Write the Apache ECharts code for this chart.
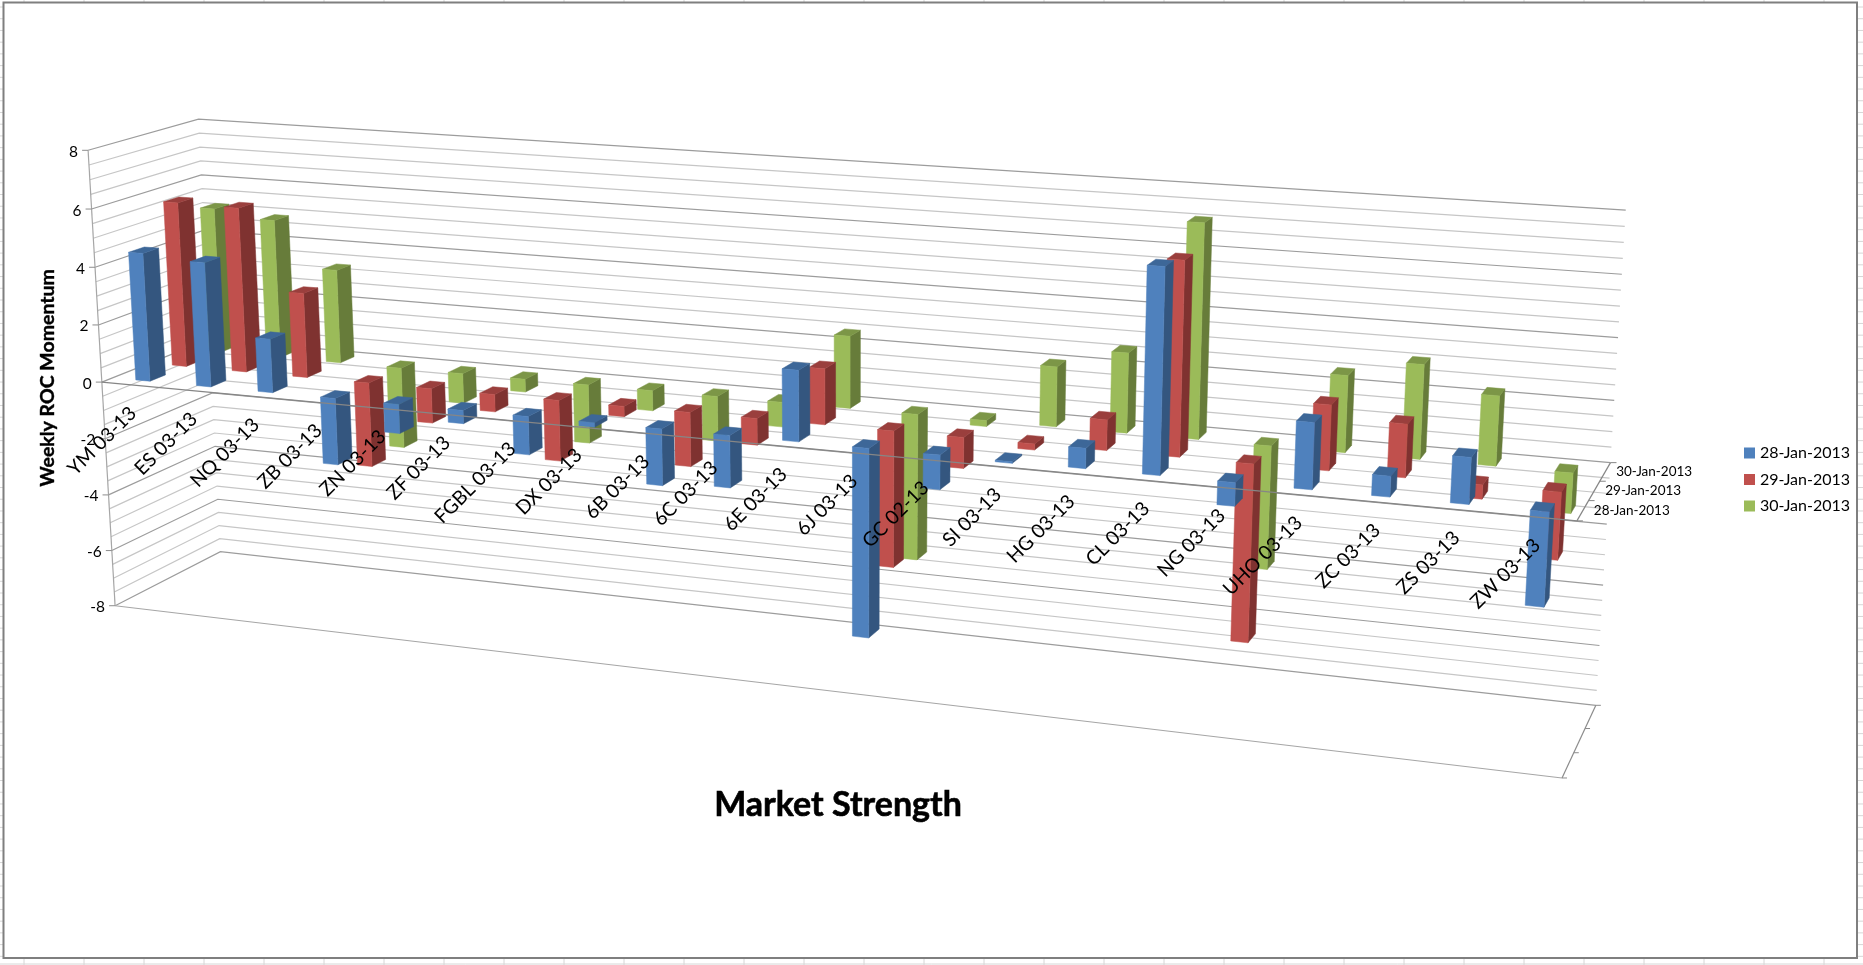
<!DOCTYPE html>
<html><head><meta charset="utf-8">
<style>html,body{margin:0;padding:0;background:#fff}#c{width:1863px;height:965px}</style>
<script src="https://cdn.jsdelivr.net/npm/echarts@6/dist/echarts.min.js"></script>
</head><body><div id="c"></div>
<script>
const categories = ['YM 03-13','ES 03-13','NQ 03-13','ZB 03-13','ZN 03-13','ZF 03-13','FGBL 03-13','DX 03-13','6B 03-13','6C 03-13','6E 03-13','6J 03-13','GC 02-13','SI 03-13','HG 03-13','CL 03-13','NG 03-13','UHO 03-13','ZC 03-13','ZS 03-13','ZW 03-13'];
const dates = ['28-Jan-2013','29-Jan-2013','30-Jan-2013'];
const jan28 = [4.45,4.3,1.85,-2.3,-1.0,-0.45,-1.3,-0.15,-1.9,-1.75,2.35,-6.3,-1.13,-0.05,0.65,6.55,-0.75,2.1,0.65,1.45,-2.95];
const jan29 = [5.78,5.75,2.95,-2.95,-1.2,-0.6,-2.1,-0.35,-1.85,-0.9,1.87,-4.6,-1.03,-0.2,1.0,6.3,-5.85,2.1,1.7,-0.45,-2.15];
const jan30 = [5.15,4.9,3.3,-2.85,-1.05,-0.45,-2.05,-0.7,-1.55,-0.85,2.45,-5.0,-0.2,2.0,2.65,7.05,-4.1,2.5,3.05,2.25,-1.3];
const yTicks = [-8,-6,-4,-2,0,2,4,6,8];
const yMinorStep = 0.5;

const W = 1863, H = 965;
// Camera fitted to the corners of the 3D frame (x along categories, d along depth, z value/8)
const frameRefs = [
 [0,0, 1, 89,151],[0,0,-1,115,606],[0,1, 1,198,119],[0,1,-1,221,552],
 [1,1, 1,1625,210],[1,1,-1,1595,705],[1,0,-1,1562,778],
 [0,0, 0,101,381],[1,0, 0,1577,521],[1,1, 0,1612,463]
];
function solveCamera(refs){
  const n=11, A=[], b=[];
  refs.forEach(([x,d,z,u,v])=>{
    u/=1000; v/=1000;
    A.push([x,d,z,1,0,0,0,0,-u*x,-u*d,-u*z]); b.push(u);
    A.push([0,0,0,0,x,d,z,1,-v*x,-v*d,-v*z]); b.push(v);
  });
  const M=[]; for(let i=0;i<n;i++){M.push(new Array(n+1).fill(0));
    for(let j=0;j<n;j++) for(let k=0;k<A.length;k++) M[i][j]+=A[k][i]*A[k][j];
    for(let k=0;k<A.length;k++) M[i][n]+=A[k][i]*b[k];}
  for(let i=0;i<n;i++){let p=i;for(let r=i+1;r<n;r++) if(Math.abs(M[r][i])>Math.abs(M[p][i])) p=r;
    [M[i],M[p]]=[M[p],M[i]];
    for(let r=0;r<n;r++){ if(r===i) continue; const f=M[r][i]/M[i][i]; for(let c=i;c<=n;c++) M[r][c]-=f*M[i][c]; }}
  return M.map((r,i)=>r[n]/r[i]);
}
const P = solveCamera(frameRefs);
function project(x,d,z){
  const w=P[8]*x+P[9]*d+P[10]*z+1;
  return [1000*(P[0]*x+P[1]*d+P[2]*z+P[3])/w, 1000*(P[4]*x+P[5]*d+P[6]*z+P[7])/w];
}
// hidden grid fills the canvas, so api.coord gives the axis scale position as a fraction
const fx = px => px/W;
const fz = py => (H/2-py)/(H/2);

const barColors = {
 '28-Jan-2013':['#4F81BD','#34567F','#3D6798'],
 '29-Jan-2013':['#C0504D','#7F3230','#9A3F3D'],
 '30-Jan-2013':['#9BBB59','#677C3A','#7C9647']
};
const barW = 0.235, barD = 0.14;
function barSeries(name,values,row){
  const col = barColors[name];
  return {
    name, type:'custom', coordinateSystem:'cartesian2d', z:3, silent:true,
    itemStyle:{color:col[0]},
    data: values.map((v,i)=>[i,v]),
    encode:{x:0,y:1},
    renderItem(params,api){
      const i=api.value(0), v=api.value(1);
      const c=api.coord([i,v]), o=api.coord([i,0]), band=api.size([1,0])[0];
      const xc=fx(c[0]), hw=fx(band)*barW/2;
      const zv=fz(c[1]), z0=fz(o[1]);
      const t=Math.max(zv,z0), b=Math.min(zv,z0);
      const d0=(row+0.5)/3-barD/2, d1=d0+barD, x0=xc-hw, x1=xc+hw;
      const poly=(pts,color)=>({type:'polygon',shape:{points:pts},style:{fill:color,stroke:color,lineWidth:0.5}});
      return {type:'group',children:[
        poly([project(x1,d0,b),project(x1,d1,b),project(x1,d1,t),project(x1,d0,t)],col[1]),
        poly([project(x0,d0,t),project(x1,d0,t),project(x1,d1,t),project(x0,d1,t)],col[2]),
        poly([project(x0,d0,b),project(x1,d0,b),project(x1,d0,t),project(x0,d0,t)],col[0])
      ]};
    }
  };
}
const line=(a,b,color,w)=>({type:'line',shape:{x1:a[0],y1:a[1],x2:b[0],y2:b[1]},style:{stroke:color,lineWidth:w||1}});
const gridVals=[]; for(let k=0;k<=32;k++) gridVals.push(-8+k*yMinorStep);

const wallSeries={
  type:'custom',coordinateSystem:'cartesian2d',z:1,silent:true,
  data:gridVals.map(v=>[0,v]),encode:{x:0,y:1},
  renderItem(params,api){
    const v=api.value(1), z=fz(api.coord([0,v])[1]);
    const major=Math.abs(v%2)<1e-6;
    const color=major?'#9c9c9c':'#c6c6c6';
    return {type:'polyline',shape:{points:[project(0,0,z),project(0,1,z),project(1,1,z)]},style:{fill:'none',stroke:color,lineWidth:1.2}};
  }
};
const yAxisSeries={
  type:'custom',coordinateSystem:'cartesian2d',z:2,silent:true,
  data:yTicks.map(v=>[0,v]),encode:{x:0,y:1},
  renderItem(params,api){
    const v=api.value(1), z=fz(api.coord([0,v])[1]), p=project(0,0,z);
    return {type:'group',children:[
      line([p[0]-6,p[1]],p,'#8c8c8c',1),
      {type:'text',x:p[0]-10,y:p[1]+1.5,style:{text:String(v),textAlign:'right',textVerticalAlign:'middle',font:'15.5px Lato',fill:'#000'}}
    ]};
  }
};
const frameSeries={
  type:'custom',coordinateSystem:'cartesian2d',z:2,silent:true,
  data:[[0,8]],encode:{x:0,y:1},
  renderItem(params,api){
    const kids=[
      line(project(0,0,1),project(0,0,-1),'#a6a6a6',1.2),
      line(project(0,0,-1),project(1,0,-1),'#a6a6a6',1.2),
      line(project(1,0,-1),project(1,1,-1),'#8c8c8c',1.2)
    ];
    [0,1/3,2/3,1].forEach(d=>{const p=project(1,d,-1);kids.push(line(p,[p[0]+5,p[1]],'#8c8c8c',1));});
    return {type:'group',children:kids};
  }
};
const catAxisSeries={
  type:'custom',coordinateSystem:'cartesian2d',z:5,silent:true,
  data:categories.map((c,i)=>[i,0]),encode:{x:0,y:1},
  renderItem(params,api){
    const i=api.value(0), c=api.coord([i,0]), x=fx(c[0]), p=project(x,0,0);
    const lab=categories[i];
    return {type:'text',x:p[0]+1,y:p[1]+25,rotation:Math.PI/4,style:{text:lab,textAlign:'right',textVerticalAlign:'middle',font:'19.5px Lato',fill:'#000'}};
  }
};
const zeroSeries={
  type:'custom',coordinateSystem:'cartesian2d',z:4,silent:true,
  data:[[0,0]],encode:{x:0,y:1},
  renderItem(params,api){
    const z=fz(api.coord([0,0])[1]);
    const kids=[
      line(project(0,0,z),project(1,0,z),'#868686',1.4),
      line(project(1,0,z),project(1,1,z),'#868686',1.2)
    ];
    [0,1/3,2/3,1].forEach(d=>{const p=project(1,d,z);kids.push(line(p,[p[0]+6,p[1]],'#868686',1));});
    dates.forEach((t,r)=>{const p=project(1,(r+0.5)/3,z);
      kids.push({type:'text',x:p[0]+11,y:p[1],style:{text:t,textAlign:'left',textVerticalAlign:'middle',font:'13.5px Lato',fill:'#000'}});});
    return {type:'group',children:kids};
  }
};
// spreadsheet cells that show around the chart area, and the chart border
const sheet=[];
for(let y=7;y<965;y+=11.72){
  sheet.push({type:'line',shape:{x1:0,y1:y,x2:3,y2:y},style:{stroke:'#d6d6d6',lineWidth:1},z:0});
  sheet.push({type:'line',shape:{x1:1858,y1:y,x2:1863,y2:y},style:{stroke:'#d6d6d6',lineWidth:1},z:0});
}
for(let x=24;x<1863;x+=60){
  sheet.push({type:'line',shape:{x1:x,y1:0,x2:x,y2:2},style:{stroke:'#d6d6d6',lineWidth:1},z:0});
  sheet.push({type:'line',shape:{x1:x,y1:959,x2:x,y2:965},style:{stroke:'#d6d6d6',lineWidth:1},z:0});
}
sheet.push({type:'line',shape:{x1:0,y1:964,x2:1863,y2:964},style:{stroke:'#d6d6d6',lineWidth:1},z:0});
sheet.push({type:'rect',shape:{x:3.5,y:2.5,width:1853.5,height:955.5},style:{fill:'none',stroke:'#7f7f7f',lineWidth:2},z:1});
sheet.push({type:'text',x:48,y:378,rotation:Math.PI/2,style:{text:'Weekly ROC Momentum',textAlign:'center',textVerticalAlign:'middle',font:'bold 19.5px Lato',fill:'#000',stroke:'#000',lineWidth:0.4},z:10});

const chart=echarts.init(document.getElementById('c'),null,{renderer:'canvas',width:W,height:H});
chart.setOption({
  animation:false,
  backgroundColor:'#fff',
  title:{text:'Market Strength',left:833,top:783,textAlign:'center',textStyle:{fontFamily:'Lato',fontWeight:'bold',fontSize:34,color:'#000',textBorderColor:'#000',textBorderWidth:0.6}},
  grid:{left:0,right:0,top:0,bottom:0,containLabel:false},
  xAxis:{type:'category',data:categories,show:false,boundaryGap:true},
  yAxis:{type:'value',min:-8,max:8,interval:2,show:false},
  legend:{data:dates,orient:'vertical',left:1739,top:440,itemWidth:11,itemHeight:11,itemGap:10.5,icon:'rect',selectedMode:false,
    textStyle:{fontFamily:'Lato',fontSize:16,color:'#000'}},
  graphic:sheet,
  series:[wallSeries,frameSeries,yAxisSeries,
    barSeries(dates[2],jan30,2),barSeries(dates[1],jan29,1),barSeries(dates[0],jan28,0),
    zeroSeries,catAxisSeries]
});
</script></body></html>
